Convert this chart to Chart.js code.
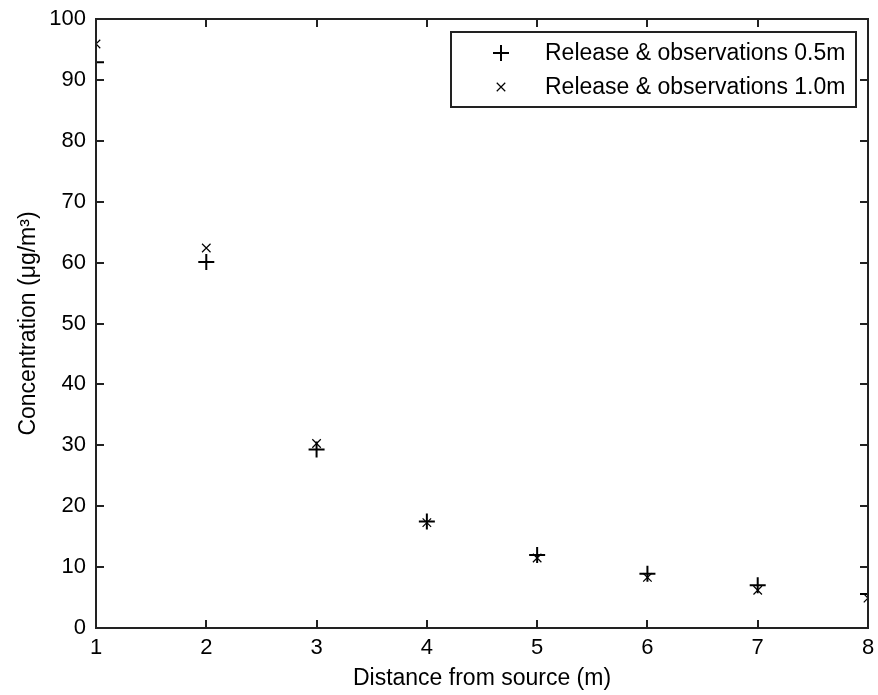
<!DOCTYPE html>
<html>
<head>
<meta charset="utf-8">
<script src="https://cdn.jsdelivr.net/npm/chart.js@4"></script>
<style>
  html, body { margin: 0; padding: 0; background: #fff; }
  canvas { display: block; }
</style>
</head>
<body>
<canvas id="chart" width="878" height="695"></canvas>
<script>
(function(){
  // data
  const distances = [1, 2, 3, 4, 5, 6, 7, 8];
  const conc05 = [92.9, 60.1, 29.3, 17.5, 12.0, 8.9, 7.0, 5.6];
  const conc10 = [95.9, 62.4, 30.3, 17.3, 11.5, 8.3, 6.2, 4.9];
  const xTicks = [1, 2, 3, 4, 5, 6, 7, 8];
  const yTicks = [0, 10, 20, 30, 40, 50, 60, 70, 80, 90, 100];
  const seriesLabels = ['Release & observations 0.5m', 'Release & observations 1.0m'];

  const FONT = "'Liberation Sans', Arial, sans-serif";
  const INK = '#222';

  function pts(ys){ return distances.map((x,i)=>({x, y: ys[i]})); }

  // box round the plot with matlab style inward ticks
  const frame = {
    id: 'frame',
    afterDraw(chart){
      const {ctx, chartArea: a, scales} = chart;
      ctx.save();
      ctx.strokeStyle = INK;
      ctx.lineWidth = 2;
      ctx.strokeRect(a.left, a.top, a.right - a.left, a.bottom - a.top);
      ctx.beginPath();
      xTicks.forEach(v=>{
        const px = Math.round(scales.x.getPixelForValue(v));
        ctx.moveTo(px, a.bottom); ctx.lineTo(px, a.bottom - 8);
        ctx.moveTo(px, a.top); ctx.lineTo(px, a.top + 8);
      });
      yTicks.forEach(v=>{
        const py = Math.round(scales.y.getPixelForValue(v));
        ctx.moveTo(a.left, py); ctx.lineTo(a.left + 8, py);
        ctx.moveTo(a.right, py); ctx.lineTo(a.right - 8, py);
      });
      ctx.stroke();
      ctx.restore();
    }
  };

  // legend with border, top right inside the axes
  const boxLegend = {
    id: 'boxLegend',
    afterDraw(chart){
      const {ctx, chartArea: a} = chart;
      const w = 405, h = 75;
      const left = a.right - 12 - w, top = a.top + 13;
      ctx.save();
      ctx.fillStyle = '#fff';
      ctx.fillRect(left, top, w, h);
      ctx.strokeStyle = INK;
      ctx.lineWidth = 2;
      ctx.strokeRect(left, top, w, h);
      ctx.font = '23px ' + FONT;
      ctx.textBaseline = 'middle';
      ctx.fillStyle = '#000';
      chart.data.datasets.forEach((ds, i)=>{
        const y = top + 21 + i * 34;
        ctx.strokeStyle = '#000';
        ctx.lineWidth = ds.pointBorderWidth;
        Chart.helpers.drawPoint(ctx, {pointStyle: ds.pointStyle, radius: ds.pointRadius, borderWidth: ds.pointBorderWidth}, left + 50, y);
        ctx.fillText(ds.label, left + 94, y + 1);
      });
      ctx.restore();
    }
  };

  new Chart(document.getElementById('chart'), {
    type: 'scatter',
    data: {
      datasets: [
        { label: seriesLabels[0], data: pts(conc05), pointStyle: 'cross', pointRadius: 8,
          pointBorderWidth: 2, borderColor: '#000', backgroundColor: '#000', showLine: false },
        { label: seriesLabels[1], data: pts(conc10), pointStyle: 'crossRot', pointRadius: 6,
          pointBorderWidth: 1.2, borderColor: '#000', backgroundColor: '#000', showLine: false }
      ]
    },
    options: {
      responsive: false,
      animation: false,
      layout: { padding: { top: 19, right: 8, left: 0, bottom: 0 } },
      plugins: { legend: { display: false }, tooltip: { enabled: false } },
      scales: {
        x: {
          type: 'linear', min: 1, max: 8,
          afterBuildTicks(s){ s.ticks = xTicks.map(v=>({value: v})); },
          afterFit(s){ s.height = 67; s.paddingLeft = 0; s.paddingRight = 0; },
          grid: { display: false, drawTicks: false },
          border: { display: false },
          ticks: { color: '#000', padding: 7, font: { family: FONT, size: 22 } },
          title: { display: true, text: 'Distance from source (m)', color: '#000',
                   padding: { top: 0, bottom: 3 }, font: { family: FONT, size: 23 } }
        },
        y: {
          type: 'linear', min: 0, max: 100,
          afterBuildTicks(s){ s.ticks = yTicks.map(v=>({value: v})); },
          afterFit(s){ s.width = 96; s.paddingTop = 0; s.paddingBottom = 0; },
          grid: { display: false, drawTicks: false },
          border: { display: false },
          ticks: { color: '#000', padding: 10, font: { family: FONT, size: 22 } },
          title: { display: true, text: 'Concentration (μg/m³)', color: '#000',
                   padding: { top: 15, bottom: 0 }, font: { family: FONT, size: 23 } }
        }
      }
    },
    plugins: [frame, boxLegend]
  });
})();
</script>
</body>
</html>
